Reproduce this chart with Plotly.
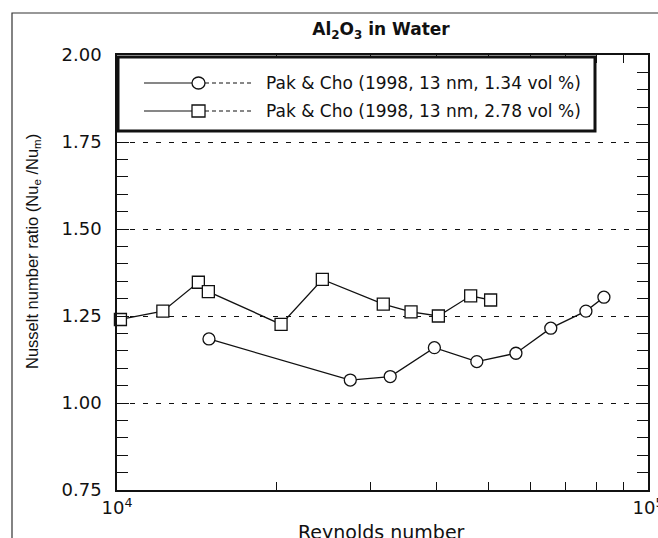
import plotly.graph_objects as go

# Pak & Cho (1998), Al2O3 nanofluid, 13 nm particles
re_134 = [14900, 27500, 32700, 39600, 47600, 56400, 65600, 76400, 82600]
nu_134 = [1.184, 1.066, 1.076, 1.159, 1.119, 1.143, 1.215, 1.264, 1.304]

re_278 = [10150, 12200, 14230, 14860, 20370, 24360, 31730, 35790, 40290, 46350, 50540]
nu_278 = [1.240, 1.264, 1.347, 1.320, 1.226, 1.355, 1.284, 1.262, 1.250, 1.308, 1.296]

series_names = ["Pak & Cho (1998, 13 nm, 1.34 vol %)",
                "Pak & Cho (1998, 13 nm, 2.78 vol %)"]
x_tickvals = [1e4, 2e4, 3e4, 4e4, 5e4, 6e4, 7e4, 8e4, 9e4, 1e5]
x_ticktext = ["10<sup>4</sup>", "", "", "", "", "", "", "", "", "10<sup>5</sup>"]

W, H = 658, 538
L, R, T, B = 117, 10, 55, 48
PW, PH = W - L - R, H - T - B

INK = "#111111"
SANS = "DejaVu Sans"


def px(x):
    """pixel column -> paper x"""
    return (x - L) / PW


def py(y):
    """pixel row -> paper y"""
    return (H - B - y) / PH


fig = go.Figure()

marker_style = dict(color="white", size=12, line=dict(color=INK, width=1.3))
fig.add_trace(go.Scatter(
    x=re_134, y=nu_134, mode="lines+markers", name=series_names[0],
    line=dict(color=INK, width=1.3),
    marker=dict(symbol="circle", **marker_style),
    cliponaxis=False, showlegend=False,
))
fig.add_trace(go.Scatter(
    x=re_278, y=nu_278, mode="lines+markers", name=series_names[1],
    line=dict(color=INK, width=1.3),
    marker=dict(symbol="square", **marker_style),
    cliponaxis=False, showlegend=False,
))

shapes = []
# outer frame of the figure
shapes.append(dict(type="rect", xref="paper", yref="paper",
                   x0=px(12), x1=px(W + 5), y0=py(13), y1=py(H + 5),
                   line=dict(color="#333", width=1.2), fillcolor="rgba(0,0,0,0)",
                   layer="below"))

# legend box
shapes.append(dict(type="rect", xref="paper", yref="paper",
                   x0=px(118), x1=px(595), y0=py(57), y1=py(131),
                   line=dict(color=INK, width=3), fillcolor="white", layer="above"))

rows = [83, 111]
for i, yy in enumerate(rows):
    shapes.append(dict(type="line", xref="paper", yref="paper",
                       x0=px(144), x1=px(192), y0=py(yy), y1=py(yy),
                       line=dict(color=INK, width=1.2), layer="above"))
    shapes.append(dict(type="line", xref="paper", yref="paper",
                       x0=px(205), x1=px(252), y0=py(yy), y1=py(yy),
                       line=dict(color=INK, width=1.1, dash="4px,3px"), layer="above"))
    shapes.append(dict(type="circle" if i == 0 else "rect", xref="paper", yref="paper",
                       x0=px(192), x1=px(205), y0=py(yy - 6), y1=py(yy + 6),
                       line=dict(color=INK, width=1.3), fillcolor="white", layer="above"))

annotations = []
for name, yy in zip(series_names, rows):
    annotations.append(dict(text=name, xref="paper", yref="paper",
                            x=px(264), y=py(yy), xanchor="left", yanchor="middle",
                            showarrow=False, font=dict(family=SANS, size=17, color=INK)))

# axis titles
annotations.append(dict(text="Reynolds number", xref="paper", yref="paper",
                        x=px(381), y=py(532), xanchor="center", yanchor="middle",
                        showarrow=False, font=dict(family=SANS, size=19, color=INK)))
annotations.append(dict(text="Nusselt number ratio (Nu<sub>e</sub> /Nu<sub>m</sub>)",
                        xref="paper", yref="paper", x=px(33), y=py(252),
                        xanchor="center", yanchor="middle", textangle=-90,
                        showarrow=False,
                        font=dict(family="Liberation Sans, Arial", size=16.5, color=INK)))

fig.update_layout(
    width=W, height=H,
    margin=dict(l=L, r=R, t=T, b=B, autoexpand=False),
    paper_bgcolor="white", plot_bgcolor="white",
    title=dict(text="Al<sub>2</sub>O<sub>3</sub> in Water",
               x=381 / W, xanchor="center", y=1 - 29 / H, yanchor="middle",
               font=dict(family=SANS, size=17, color=INK, weight="bold")),
    shapes=shapes,
    annotations=annotations,
    showlegend=False,
)

fig.update_xaxes(
    type="log", range=[4, 5],
    tickvals=x_tickvals, ticktext=x_ticktext,
    ticks="inside", ticklen=8, tickwidth=1.3, tickcolor=INK,
    showline=True, linecolor=INK, linewidth=1.5, mirror="ticks",
    showgrid=False, zeroline=False, automargin=False,
    tickfont=dict(family=SANS, size=18, color=INK),
    ticklabelstandoff=1,
    ticklabeloverflow="allow",
)

fig.update_yaxes(
    range=[0.75, 2.0],
    tickvals=[0.75, 1.0, 1.25, 1.5, 1.75, 2.0],
    ticktext=["0.75", "1.00", "1.25", "1.50", "1.75", "2.00"],
    ticks="inside", ticklen=12, tickwidth=1.3, tickcolor=INK,
    minor=dict(dtick=0.05, ticks="inside", ticklen=11, tickwidth=1.2,
               tickcolor=INK, showgrid=False),
    showline=True, linecolor=INK, linewidth=1.5, mirror="ticks",
    showgrid=True, gridcolor=INK, gridwidth=1.3, griddash="5px,8px",
    zeroline=False, automargin=False,
    tickfont=dict(family=SANS, size=18, color=INK),
    ticklabelstandoff=10,
    ticklabeloverflow="allow",
)

fig.write_html("out.html")
